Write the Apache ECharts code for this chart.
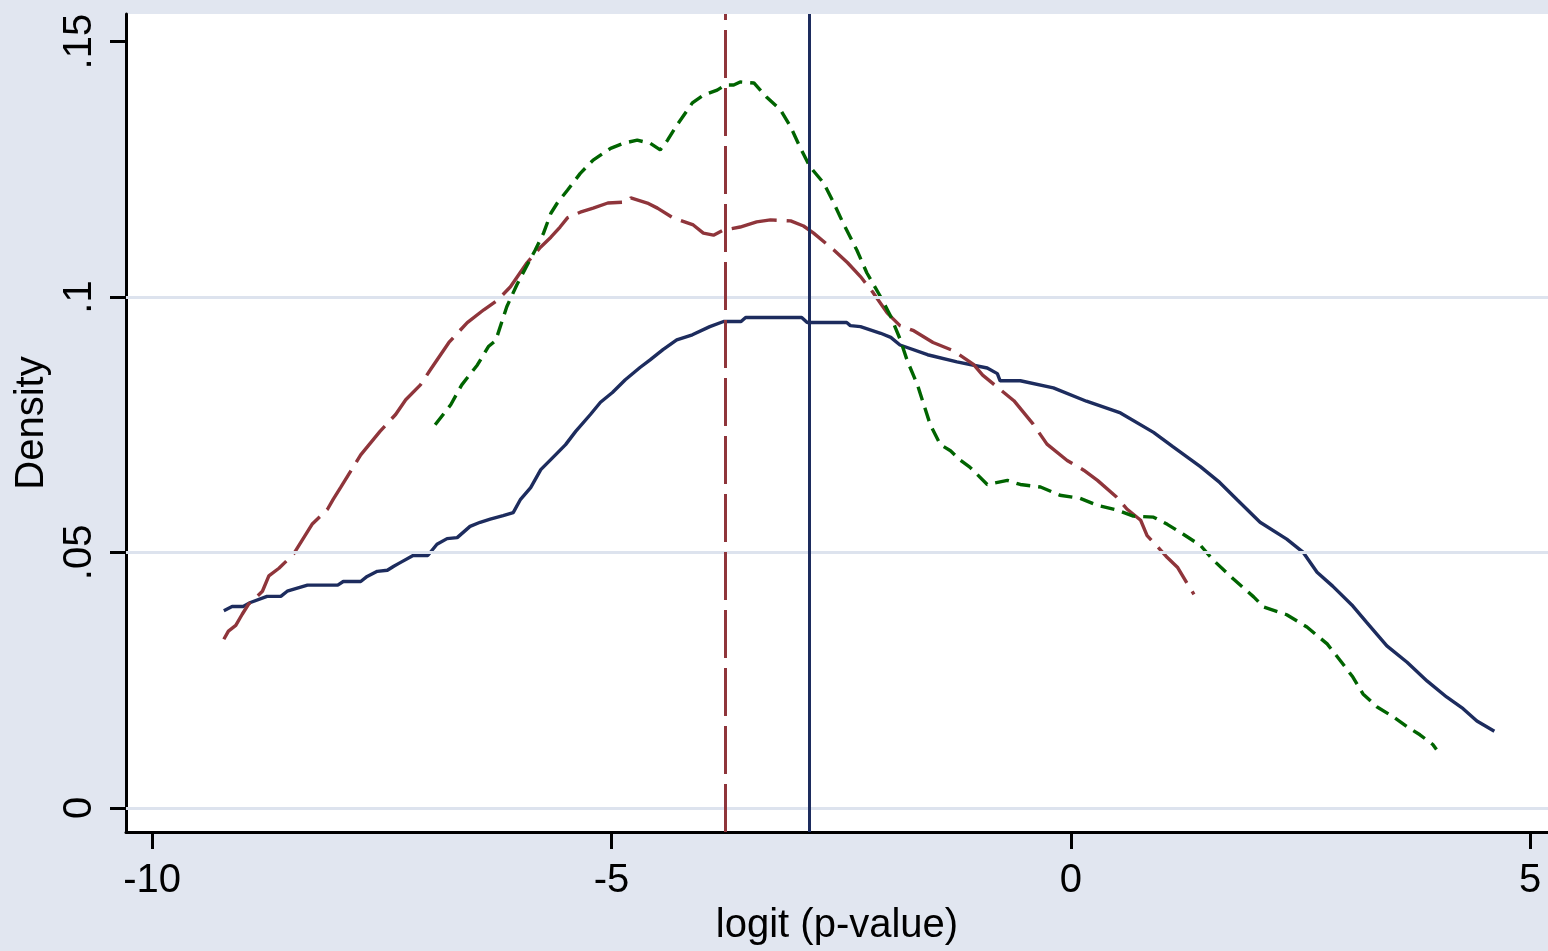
<!DOCTYPE html>
<html>
<head>
<meta charset="utf-8">
<script src="https://cdn.jsdelivr.net/npm/echarts@6/dist/echarts.min.js"></script>
<style>
html,body{margin:0;padding:0;background:#e1e6f0;}
#chart{width:1548px;height:951px;}
</style>
</head>
<body>
<div id="chart"></div>
<script>
// ---- data ----
const xTickValues = [-10, -5, 0, 5];
const xTickLabels = ['-10', '-5', '0', '5'];
const yTickValues = [0, 0.05, 0.1, 0.15];
const yTickLabels = ['0', '.05', '.1', '.15'];
const gridLineValues = [0, 0.05, 0.1];

const navyX = [-9.22,-9.13,-9.01,-8.93,-8.75,-8.60,-8.53,-8.42,-8.31,-7.98,-7.92,-7.73,-7.66,-7.55,-7.44,-7.37,-7.30,-7.16,-7.00,-6.90,-6.79,-6.68,-6.54,-6.43,-6.32,-6.18,-6.07,-5.99,-5.88,-5.77,-5.61,-5.50,-5.39,-5.23,-5.12,-4.99,-4.85,-4.69,-4.58,-4.44,-4.29,-4.12,-3.93,-3.78,-3.59,-3.54,-2.93,-2.87,-2.44,-2.40,-2.29,-2.07,-1.96,-1.86,-1.56,-1.24,-0.91,-0.80,-0.77,-0.55,-0.19,0.17,0.54,0.90,1.11,1.41,1.62,1.81,2.06,2.35,2.53,2.68,2.85,3.07,3.22,3.44,3.66,3.88,4.09,4.27,4.42,4.61];
const navyY = [.0386,.0394,.0394,.0402,.0414,.0414,.0424,.0430,.0436,.0436,.0443,.0443,.0453,.0463,.0465,.0473,.0480,.0494,.0494,.0516,.0527,.0529,.0551,.0559,.0565,.0572,.0578,.0604,.0627,.0662,.0691,.0711,.0737,.0770,.0794,.0813,.0838,.0862,.0877,.0897,.0916,.0926,.0942,.0952,.0952,.0960,.0960,.0950,.0950,.0944,.0942,.0929,.0921,.0906,.0887,.0873,.0861,.0850,.0836,.0836,.0822,.0796,.0773,.0735,.0707,.0668,.0637,.0603,.0559,.0526,.0500,.0461,.0434,.0395,.0363,.0317,.0285,.0248,.0217,.0194,.0170,.0150];

const maroonX = [-9.22,-9.17,-9.09,-9.02,-8.95,-8.88,-8.80,-8.73,-8.62,-8.46,-8.36,-8.26,-8.09,-8.03,-7.95,-7.73,-7.52,-7.35,-7.24,-7.08,-6.97,-6.77,-6.57,-6.39,-6.24,-6.10,-5.92,-5.77,-5.66,-5.56,-5.48,-5.34,-5.20,-5.04,-4.83,-4.79,-4.61,-4.50,-4.33,-4.11,-4.00,-3.89,-3.78,-3.60,-3.42,-3.27,-3.05,-2.91,-2.80,-2.58,-2.43,-2.29,-2.15,-2.00,-1.86,-1.71,-1.50,-1.28,-1.06,-0.96,-0.77,-0.62,-0.41,-0.26,-0.04,0.14,0.29,0.50,0.61,0.76,0.83,0.95,1.05,1.16,1.27,1.34];
const maroonY = [.0330,.0346,.0357,.0379,.0399,.0410,.0424,.0454,.0469,.0497,.0526,.0555,.0585,.0604,.0627,.0691,.0737,.0770,.0799,.0828,.0858,.0911,.0950,.0975,.0994,.1020,.1067,.1098,.1117,.1137,.1155,.1166,.1174,.1184,.1186,.1194,.1184,.1174,.1155,.1141,.1125,.1121,.1131,.1137,.1147,.1151,.1149,.1139,.1125,.1092,.1067,.1040,.1008,.0969,.0944,.0934,.0911,.0895,.0868,.0847,.0819,.0797,.0751,.0712,.0680,.0661,.0641,.0608,.0585,.0563,.0533,.0510,.0490,.0471,.0438,.0418];

const greenX = [-6.92,-6.75,-6.63,-6.46,-6.34,-6.26,-6.14,-6.03,-5.94,-5.83,-5.74,-5.66,-5.59,-5.48,-5.34,-5.20,-5.01,-4.87,-4.72,-4.58,-4.47,-4.39,-4.29,-4.12,-4.00,-3.85,-3.76,-3.67,-3.60,-3.45,-3.31,-3.16,-3.05,-2.95,-2.84,-2.69,-2.58,-2.48,-2.33,-2.22,-2.07,-1.96,-1.86,-1.78,-1.67,-1.60,-1.53,-1.42,-1.31,-1.20,-1.10,-0.91,-0.69,-0.55,-0.33,-0.12,0.10,0.29,0.50,0.68,0.90,1.05,1.22,1.41,1.55,1.77,1.99,2.10,2.35,2.57,2.79,2.93,3.07,3.18,3.33,3.51,3.66,3.80,3.94,3.98];
const greenY = [.0750,.0789,.0828,.0867,.0903,.0915,.0981,.1024,.1055,.1092,.1125,.1164,.1184,.1209,.1242,.1268,.1291,.1301,.1307,.1301,.1288,.1307,.1336,.1380,.1395,.1405,.1415,.1415,.1421,.1419,.1391,.1366,.1333,.1294,.1255,.1223,.1184,.1145,.1092,.1047,.1000,.0962,.0918,.0875,.0828,.0789,.0750,.0711,.0699,.0680,.0667,.0633,.0641,.0633,.0628,.0612,.0606,.0592,.0583,.0571,.0569,.0555,.0536,.0514,.0485,.0448,.0413,.0393,.0378,.0354,.0321,.0289,.0256,.0223,.0198,.0178,.0159,.0143,.0124,.0114];

const maroonVLine = -3.76;
const navyVLine = -2.85;

// ---- chart ----
const zip = (xs, ys) => xs.map((x, i) => [x, ys[i]]);
const NAVY = '#1d2c5e', MAROON = '#8f353b', GREEN = '#006400';
const FONT = 'Liberation Sans, Arial, sans-serif';

const chart = echarts.init(document.getElementById('chart'), null, {renderer: 'canvas'});
chart.setOption({
  animation: false,
  backgroundColor: '#e1e6f0',
  grid: {left: 126, right: 0, top: 14, bottom: 118, show: true, backgroundColor: '#ffffff', borderWidth: 0},
  xAxis: {
    type: 'value', min: -10.285, max: 5.194,
    name: 'logit (p-value)', nameLocation: 'middle', nameGap: 71,
    nameTextStyle: {fontFamily: FONT, fontSize: 40, color: '#000'},
    axisLine: {show: true, onZero: false, lineStyle: {color: '#000', width: 3}},
    axisTick: {show: true, length: 17, customValues: xTickValues, lineStyle: {color: '#000', width: 3}},
    axisLabel: {customValues: xTickValues, margin: 29, fontFamily: FONT, fontSize: 40, color: '#000',
      formatter: v => xTickLabels[xTickValues.findIndex(t => Math.abs(t - v) < 1e-9)]},
    splitLine: {show: false}
  },
  yAxis: {
    type: 'value', min: -0.00475, max: 0.1554,
    name: 'Density', nameLocation: 'middle', nameGap: 69,
    nameTextStyle: {fontFamily: FONT, fontSize: 40, color: '#000'},
    axisLine: {show: true, onZero: false, lineStyle: {color: '#000', width: 3}},
    axisTick: {show: true, length: 16, customValues: yTickValues, lineStyle: {color: '#000', width: 3}},
    axisLabel: {customValues: yTickValues, rotate: 90, margin: 26, fontFamily: FONT, fontSize: 40, color: '#000',
      formatter: v => yTickLabels[yTickValues.findIndex(t => Math.abs(t - v) < 1e-9)]},
    splitLine: {show: false}
  },
  series: [
    {
      type: 'line', data: [], z: 1, silent: true,
      markLine: {silent: true, symbol: 'none', label: {show: false},
        lineStyle: {color: '#dde3ee', width: 3, type: 'solid'},
        data: gridLineValues.map(v => ({yAxis: v}))}
    },
    {
      type: 'line', data: zip(navyX, navyY), showSymbol: false, z: 3,
      lineStyle: {color: NAVY, width: 3.4}
    },
    {
      type: 'line', data: zip(maroonX, maroonY), showSymbol: false, z: 3,
      lineStyle: {color: MAROON, width: 3.4, type: [46, 10]}
    },
    {
      type: 'line', data: zip(greenX, greenY), showSymbol: false, z: 3,
      lineStyle: {color: GREEN, width: 3.4, type: [14, 8]}
    },
    {
      type: 'line', data: [], z: 4, silent: true,
      markLine: {silent: true, symbol: 'none', label: {show: false},
        data: [
          {xAxis: maroonVLine, lineStyle: {color: MAROON, width: 3, type: [48, 10]}},
          {xAxis: navyVLine, lineStyle: {color: NAVY, width: 3, type: 'solid'}}
        ]}
    }
  ]
});
</script>
</body>
</html>
